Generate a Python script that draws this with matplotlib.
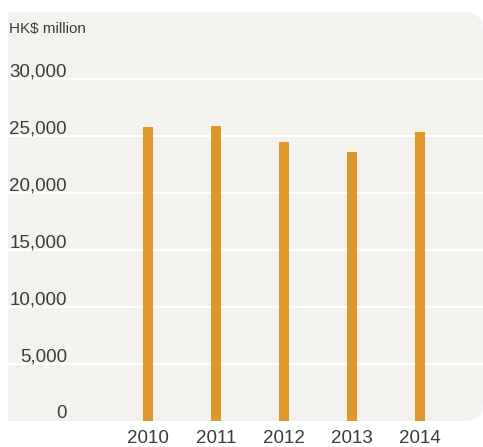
import matplotlib.pyplot as plt
from matplotlib.patches import FancyBboxPatch, Rectangle
from matplotlib.transforms import blended_transform_factory

# data
years = ['2010', '2011', '2012', '2013', '2014']
values = [25800, 25880, 24480, 23600, 25350]
y_ticks = [0, 5000, 10000, 15000, 20000, 25000, 30000]
y_labels = ['0', '5,000', '10,000', '15,000', '20,000', '25,000', '30,000']
unit_label = 'HK$ million'

bg = '#f3f2ee'
bar_color = '#dd972b'
text_color = '#3c3c3c'

W, H = 483, 447
fig = plt.figure(figsize=(W / 100, H / 100), dpi=100)

# panel: left edge square, right corners rounded
left, right, top, bottom = 8, 483, 12, 421
fig.patches.append(FancyBboxPatch((left / W, 1 - bottom / H), (right - left) / W, (bottom - top) / H,
                                  boxstyle='round,pad=0,rounding_size=0.04',
                                  transform=fig.transFigure, fc=bg, ec='none', zorder=-2))
fig.patches.append(Rectangle((left / W, 1 - bottom / H), 40 / W, (bottom - top) / H,
                             transform=fig.transFigure, fc=bg, ec='none', zorder=-2))

ax = fig.add_axes([left / W, 1 - bottom / H, (right - left) / W, (bottom - top) / H])
ax.set_facecolor('none')
for s in ax.spines.values():
    s.set_visible(False)
ax.set_xticks([])
ax.set_yticks([])

x = list(range(len(years)))
step = 68
xmin = -(148 - left) / step
ax.set_xlim(xmin, xmin + (right - left) / step)
ax.set_ylim(0, (bottom - top) / 57 * 5000)

for t in y_ticks[1:]:
    ax.axhline(t, color='white', lw=1.6, zorder=1)

ax.bar(x, values, width=10 / step, color=bar_color, zorder=2)

font = 'Liberation Sans'
ty = blended_transform_factory(ax.transAxes, ax.transData)
for t, lab in zip(y_ticks, y_labels):
    ax.text((67 - left) / (right - left), t + 250, lab, transform=ty, ha='right', va='baseline',
            fontsize=13.5, color=text_color, family=font)

tx = blended_transform_factory(ax.transData, ax.transAxes)
for xi, lab in zip(x, years):
    ax.text(xi, -22 / (bottom - top), lab, transform=tx, ha='center', va='baseline',
            fontsize=13.5, color=text_color, family=font, clip_on=False)

fig.text(9 / W, 1 - 33 / H, unit_label, ha='left', va='baseline', fontsize=11,
         color=text_color, family=font)

fig.savefig('out.png', dpi=100)
